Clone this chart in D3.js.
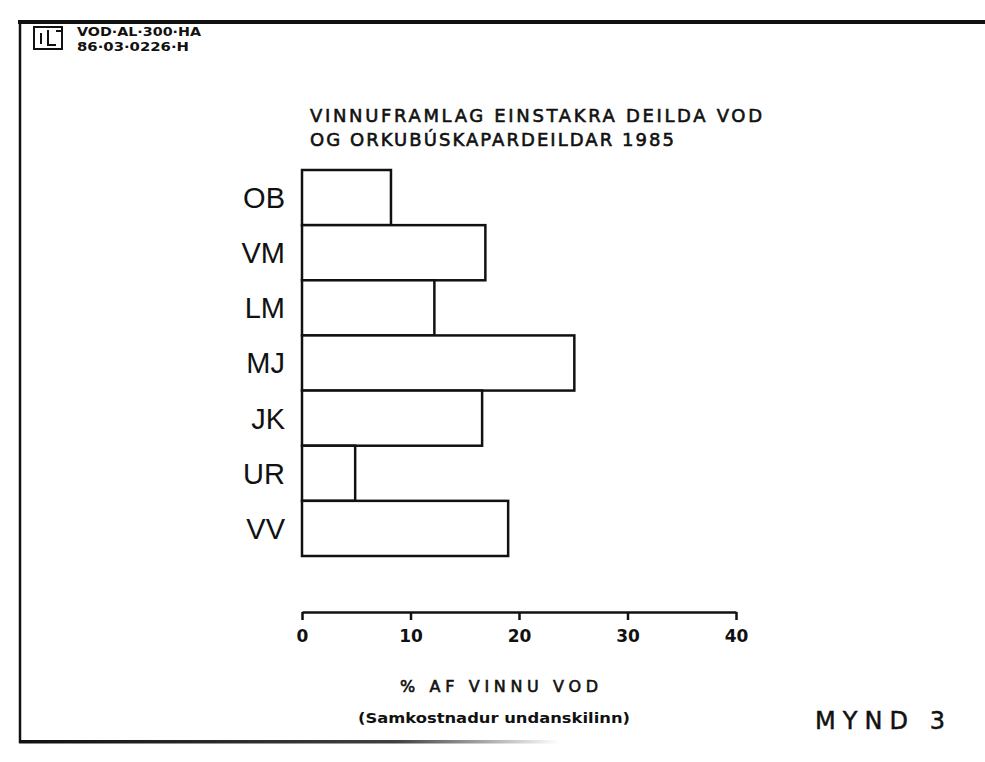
<!DOCTYPE html>
<html>
<head>
<meta charset="utf-8">
<script src="https://cdn.jsdelivr.net/npm/d3@7"></script>
<style>
  body { margin: 0; background: #fff; }
  svg { display: block; }
</style>
</head>
<body>
<svg id="chart" width="985" height="762"></svg>
<script>
// data
var categories = ["OB", "VM", "LM", "MJ", "JK", "UR", "VV"];
var values = [8.2, 16.9, 12.2, 25.1, 16.6, 4.9, 19.0];
var tickValues = [0, 10, 20, 30, 40];
var titleLines = ["VINNUFRAMLAG EINSTAKRA DEILDA VOD", "OG ORKUBÚSKAPARDEILDAR 1985"];
var headerLines = ["VOD·AL·300·HA", "86·03·0226·H"];

var svg = d3.select("#chart");
var ink = "#111";

var x = d3.scaleLinear().domain([0, 40]).range([302, 736]);
var y = d3.scaleBand().domain(categories).range([170, 556]).padding(0);

// frame of the scanned sheet
svg.append("line").attr("x1", 18).attr("x2", 985).attr("y1", 22).attr("y2", 22)
    .attr("stroke", ink).attr("stroke-width", 4);
svg.append("line").attr("x1", 20).attr("x2", 20).attr("y1", 20).attr("y2", 743)
    .attr("stroke", ink).attr("stroke-width", 2.5);
var grad = svg.append("defs").append("linearGradient").attr("id", "fade");
grad.append("stop").attr("offset", "0%").attr("stop-color", ink);
grad.append("stop").attr("offset", "70%").attr("stop-color", ink).attr("stop-opacity", 0.8);
grad.append("stop").attr("offset", "100%").attr("stop-color", ink).attr("stop-opacity", 0);
svg.append("rect").attr("x", 19).attr("y", 740).attr("width", 540).attr("height", 3.5)
    .attr("fill", "url(#fade)");

// header stamp
var logo = svg.append("g").attr("fill", "none").attr("stroke", ink).attr("stroke-width", 2);
logo.append("rect").attr("x", 34).attr("y", 27).attr("width", 28).attr("height", 22);
logo.append("path").attr("d", "M41,33V44 M48,30V45H56 M56,31H62");
svg.selectAll(".hdr").data(headerLines).enter().append("text")
    .attr("x", 77).attr("y", function (d, i) { return 36 + i * 14.5; })
    .attr("font-family", "DejaVu Sans").attr("font-weight", "bold").attr("font-size", 12)
    .attr("textLength", function (d, i) { return i == 0 ? 124 : 112; })
    .attr("lengthAdjust", "spacingAndGlyphs")
    .attr("fill", ink).text(function (d) { return d; });

// title
svg.selectAll(".title").data(titleLines).enter().append("text")
    .attr("x", 310).attr("y", function (d, i) { return 122 + i * 24; })
    .attr("font-family", "DejaVu Sans").attr("font-size", 18)
    .attr("stroke", ink).attr("stroke-width", 0.6)
    .attr("textLength", function (d, i) { return i == 0 ? 452 : 364; })
    .attr("lengthAdjust", "spacing")
    .attr("fill", ink).text(function (d) { return d; });

// bars
svg.selectAll(".bar").data(values).enter().append("rect")
    .attr("x", x(0))
    .attr("y", function (d, i) { return y(categories[i]); })
    .attr("width", function (d) { return x(d) - x(0); })
    .attr("height", y.bandwidth())
    .attr("fill", "#fff").attr("stroke", ink).attr("stroke-width", 2.5);

// category labels
svg.selectAll(".cat").data(categories).enter().append("text")
    .attr("x", 285)
    .attr("y", function (d) { return y(d) + y.bandwidth() / 2; })
    .attr("dy", "0.36em")
    .attr("text-anchor", "end")
    .attr("font-family", "Liberation Sans").attr("font-size", 29)
    .attr("fill", ink).text(function (d) { return d; });

// x axis
var axis = svg.append("g").attr("transform", "translate(0,612)")
    .call(d3.axisBottom(x).tickValues(tickValues).tickSize(8).tickSizeOuter(0).tickPadding(10));
axis.select(".domain").attr("stroke", ink).attr("stroke-width", 2.5);
axis.selectAll(".tick line").attr("stroke", ink).attr("stroke-width", 2.5);
axis.selectAll(".tick text").attr("font-family", "DejaVu Sans").attr("font-weight", "bold")
    .attr("font-size", 17).attr("fill", ink);

// axis captions
svg.append("text").attr("x", 499).attr("y", 692).attr("text-anchor", "middle")
    .attr("font-family", "DejaVu Sans").attr("font-size", 16)
    .attr("stroke", ink).attr("stroke-width", 0.6)
    .attr("textLength", 198).attr("lengthAdjust", "spacing")
    .attr("fill", ink).text("% AF VINNU VOD");
svg.append("text").attr("x", 494).attr("y", 723).attr("text-anchor", "middle")
    .attr("font-family", "DejaVu Sans").attr("font-weight", "bold").attr("font-size", 14)
    .attr("textLength", 272).attr("lengthAdjust", "spacingAndGlyphs")
    .attr("fill", ink).text("(Samkostnadur undanskilinn)");

svg.append("text").attr("x", 815).attr("y", 729)
    .attr("font-family", "DejaVu Sans").attr("font-size", 24)
    .attr("stroke", ink).attr("stroke-width", 0.5)
    .attr("textLength", 130).attr("lengthAdjust", "spacing")
    .attr("fill", ink).text("MYND 3");
</script>
</body>
</html>
